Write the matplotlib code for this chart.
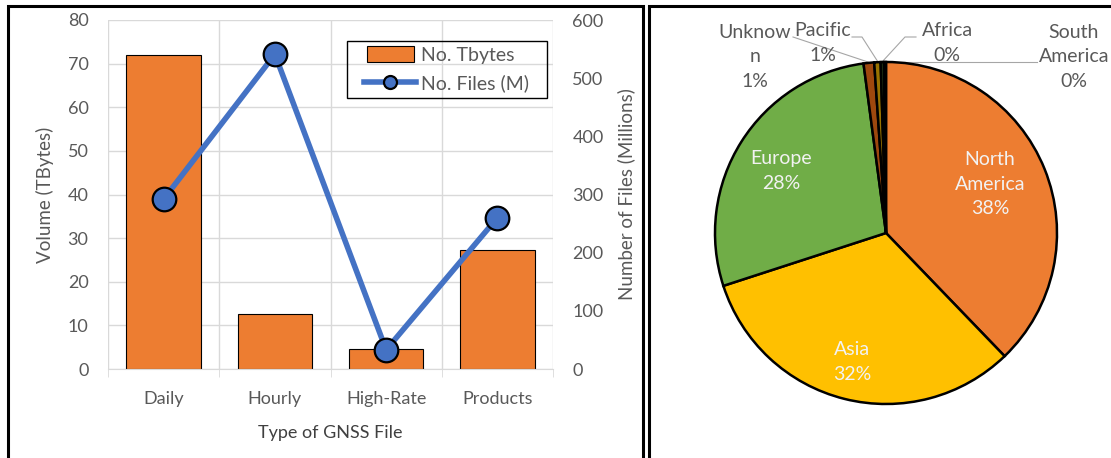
import numpy as np
import matplotlib.pyplot as plt
from matplotlib.patches import Rectangle
from matplotlib.legend_handler import HandlerLine2D, HandlerPatch

plt.rcParams['font.family'] = ['Lato', 'DejaVu Sans']

# left chart data
file_types = ['Daily', 'Hourly', 'High-Rate', 'Products']
tbytes = [72.0, 12.7, 4.6, 27.2]
files_m = [292, 541, 33, 260]

# right chart data
regions = ['North\nAmerica', 'Asia', 'Europe', 'Unknow\nn', 'Pacific', 'Africa', 'South\nAmerica']
shares = [37.8, 32.2, 27.9, 1.0, 0.6, 0.3, 0.2]
region_colors = ['#ED7D31', '#FFC000', '#70AD47', '#9E480E', '#997300', '#43682B', '#1F1F1F']

grey = '#595959'
W, H = 1111, 458
fig = plt.figure(figsize=(W / 100, H / 100), dpi=100)

# panel frames
for x0, x1 in [(8, 643), (649, 1116)]:
    fig.add_artist(Rectangle((x0 / W, -0.05), (x1 - x0) / W, (H - 6) / H + 0.05,
                             transform=fig.transFigure, fill=False,
                             edgecolor='black', linewidth=2.2))

# ---- bar + line chart
ax = fig.add_axes([108 / W, (H - 369) / H, (553 - 108) / W, 349 / H])
x = np.arange(len(file_types))
bars = ax.bar(x, tbytes, width=0.67, color='#ED7D31', edgecolor='black',
              linewidth=0.8, label='No. Tbytes', zorder=2)
ax.set_xlim(-0.5, 3.5)
ax.set_ylim(0, 80)
ax.set_yticks(range(0, 81, 10))
ax.set_xticks(x)
ax.set_xticklabels(file_types)
ax.set_xticks(np.arange(-0.5, 4, 1), minor=True)
ax.tick_params(axis='x', which='major', length=0, pad=16, labelsize=13, labelcolor=grey)
ax.tick_params(axis='x', which='minor', length=6, color='#D9D9D9')
ax.tick_params(axis='y', length=0, pad=14, labelsize=13, labelcolor=grey)
ax.grid(axis='y', color='#D9D9D9', linewidth=1, zorder=0)
ax.grid(axis='x', which='minor', color='#D9D9D9', linewidth=1, zorder=0)
ax.set_axisbelow(True)
for s in ['left', 'right', 'top']:
    ax.spines[s].set_visible(False)
ax.spines['bottom'].set_color('#D9D9D9')
ax.set_ylabel('Volume (TBytes)', fontsize=13.5, color=grey, labelpad=10)
ax.set_xlabel('Type of GNSS File', fontsize=13, color='#404040', labelpad=13)

ax2 = ax.twinx()
line, = ax2.plot(x, files_m, color='#4472C4', linewidth=4, marker='o',
                 markersize=17, markerfacecolor='#4472C4', markeredgecolor='black',
                 markeredgewidth=1.6, label='No. Files (M)', zorder=3)
ax2.set_ylim(0, 600)
ax2.set_yticks(range(0, 601, 100))
ax2.tick_params(axis='y', length=0, pad=14, labelsize=13, labelcolor=grey)
for s in ax2.spines.values():
    s.set_visible(False)
ax2.set_ylabel('Number of Files (Millions)', fontsize=13.5, color=grey, labelpad=10)


# shorter legend handles, centred in the handle box like Excel does
class ShortLine(HandlerLine2D):
    def get_xdata(self, legend, xdescent, ydescent, width, height, fontsize):
        return ([-xdescent + 0.05 * width, -xdescent + 0.95 * width],
                [-xdescent + 0.5 * width])


def short_rect(legend, orig_handle, xdescent, ydescent, width, height, fontsize):
    return Rectangle((-xdescent + 0.1 * width, -ydescent - 0.1 * height),
                     0.8 * width, 1.2 * height)


bar_handle = bars[0]
leg = ax2.legend([bar_handle, line], ['No. Tbytes', 'No. Files (M)'], loc='upper left',
                 bbox_to_anchor=(361 / W, (H - 47) / H), bbox_transform=fig.transFigure,
                 fontsize=14, frameon=False, handlelength=3.0, handletextpad=0.1,
                 borderpad=0.0, labelspacing=0.52, borderaxespad=0.0,
                 markerscale=0.55, labelcolor=grey,
                 handler_map={line: ShortLine(),
                              bar_handle: HandlerPatch(patch_func=short_rect)})
# legend frame drawn separately (Excel pads the box more on the sides)
fig.add_artist(Rectangle((347 / W, (H - 98) / H), 200 / W, 57 / H,
                         transform=fig.transFigure, fill=False,
                         edgecolor='black', linewidth=1.0, zorder=5))

# ---- pie chart
cx, cy, r = 886, 233, 171
pax = fig.add_axes([(cx - r) / W, (H - cy - r) / H, 2 * r / W, 2 * r / H])
pax.pie(shares, colors=region_colors, startangle=90, counterclock=False,
        radius=1.0, wedgeprops=dict(edgecolor='black', linewidth=1.8))
pax.set_xlim(-1, 1)
pax.set_ylim(-1, 1)
pax.set_aspect('auto')
pax.axis('off')


def to_d(px, py):
    return (px - cx) / r, (cy - py) / r


pcts = [f"{round(v)}%" for v in shares]

# inside labels
inside = {0: (990, 184), 1: (852, 362), 2: (781, 171)}
for i, (px, py) in inside.items():
    pax.text(*to_d(px, py), regions[i] + '\n' + pcts[i],
             ha='center', va='center', fontsize=14, color='#F2F2F2',
             linespacing=1.55)

# outside labels with leader lines
outside = {3: (755, 57), 4: (823, 43), 5: (947, 43), 6: (1074, 57)}
for i, (px, py) in outside.items():
    pax.text(*to_d(px, py), regions[i] + '\n' + pcts[i], ha='center', va='center',
             fontsize=14, color=grey, linespacing=1.55, clip_on=False)

leaders = [
    [(793, 37), (868, 62)],
    [(852, 37), (862, 37), (878, 62)],
    [(916, 37), (905, 37), (882, 62)],
    [(1037, 62), (885, 62)],
]
for pts in leaders:
    xs, ys = zip(*[to_d(px, py) for px, py in pts])
    pax.plot(xs, ys, color='#A6A6A6', linewidth=0.8, clip_on=False, zorder=0)

fig.savefig('out.png', dpi=100)
